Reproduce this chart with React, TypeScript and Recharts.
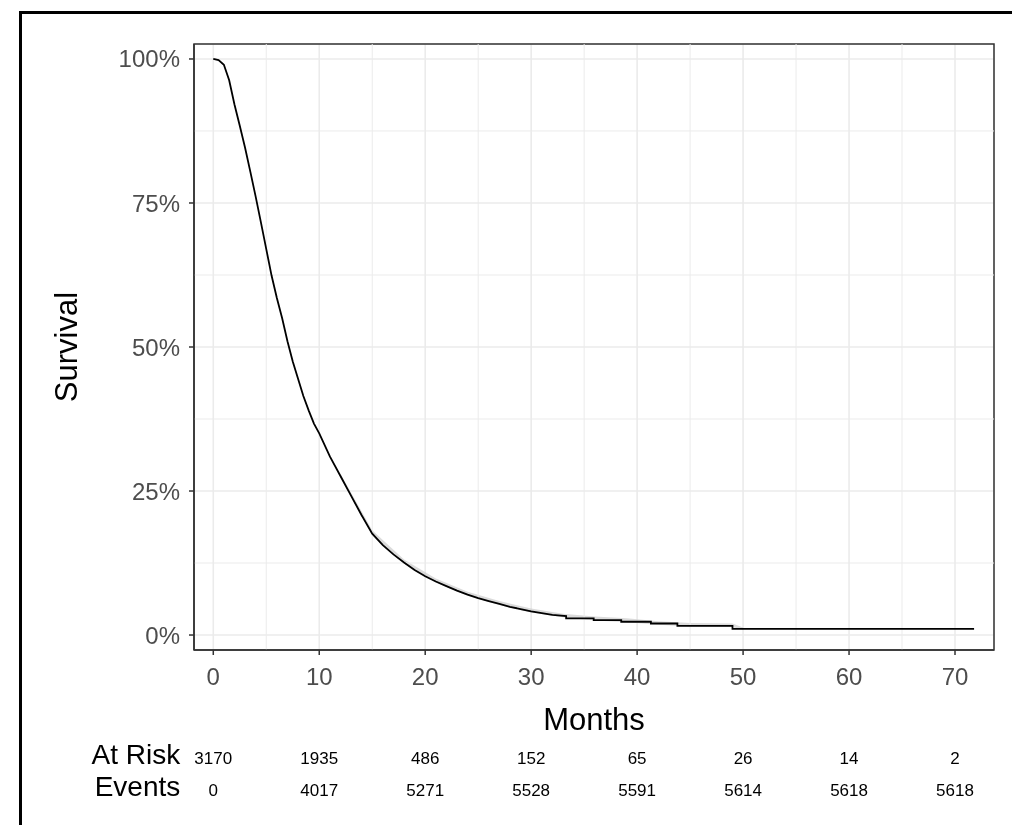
import React from 'react';
import {
  ComposedChart, Line, Area, XAxis, YAxis, CartesianGrid, ReferenceLine, ReferenceArea,
} from 'recharts';

// Kaplan-Meier curve (months, survival %)
const months = [0, 0.5, 1, 1.5, 2, 2.5, 3, 3.5, 4, 4.5, 5, 5.5, 6, 6.5, 7, 7.5, 8, 8.5, 9, 9.5, 10,
  11, 12, 13, 14, 15, 16, 17, 18, 19, 20, 21, 22, 23, 24, 25, 26, 27, 28, 29, 30, 31, 32,
  33.3, 33.3, 35.9, 35.9, 38.5, 38.5, 41.3, 41.3, 43.8, 43.8, 49, 49, 71.8];
const survival = [100, 99.8, 99, 96.3, 92.1, 88.4, 84.6, 80.4, 76.1, 71.6, 67.0, 62.4, 58.5, 55.0, 51.0, 47.5, 44.5, 41.5, 39.0, 36.7, 35.0,
  31.0, 27.6, 24.2, 20.8, 17.6, 15.6, 14.0, 12.6, 11.3, 10.2, 9.3, 8.5, 7.7, 7.0, 6.4, 5.9, 5.4, 4.9, 4.5, 4.1, 3.8, 3.5,
  3.3, 2.9, 2.9, 2.6, 2.6, 2.3, 2.3, 2.0, 2.0, 1.6, 1.6, 1.05, 1.05];

// faint confidence band
const bandMonths = [12, 15, 18, 21, 24, 27, 30, 33, 36, 39, 42, 45, 49, 50];
const bandLow = [27.3, 17.3, 12.4, 9.1, 6.8, 5.2, 3.9, 3.1, 2.5, 2.2, 1.8, 1.5, 1.4, 0.9];
const bandHigh = [28.0, 18.2, 13.1, 9.8, 7.5, 5.9, 4.6, 3.7, 3.2, 2.9, 2.4, 2.1, 2.0, 1.3];

const xTicks = [0, 10, 20, 30, 40, 50, 60, 70];
const xMinor = [5, 15, 25, 35, 45, 55, 65];
const yTicks = [0, 25, 50, 75, 100];
const yMinor = [12.5, 37.5, 62.5, 87.5];
const xDomain = [-1.82, 73.68];
const yDomain = [-2.6, 102.6];

const riskMonths = [0, 10, 20, 30, 40, 50, 60, 70];
const atRisk = [3170, 1935, 486, 152, 65, 26, 14, 2];
const events = [0, 4017, 5271, 5528, 5591, 5614, 5618, 5618];

const curveData = months.map((m, i) => ({ m, s: survival[i] }));
const bandData = bandMonths.map((m, i) => ({ m, band: [bandLow[i], bandHigh[i]] }));

const FONT = '"Liberation Sans", Arial, sans-serif';

const RiskTick = (props: any) => {
  const { x, y, payload } = props;
  const i = riskMonths.indexOf(payload.value);
  return (
    <g>
      {i === 0 && (
        <>
          <text x={x - 33} y={y + 29} textAnchor="end" fontSize={28} fill="#000" fontFamily={FONT}>At Risk</text>
          <text x={x - 33} y={y + 61} textAnchor="end" fontSize={28} fill="#000" fontFamily={FONT}>Events</text>
        </>
      )}
      <text x={x} y={y + 29} textAnchor="middle" fontSize={17} fill="#000" fontFamily={FONT}>{atRisk[i]}</text>
      <text x={x} y={y + 61} textAnchor="middle" fontSize={17} fill="#000" fontFamily={FONT}>{events[i]}</text>
    </g>
  );
};

const SurvLabel = (props: any) => {
  const { viewBox } = props;
  const cx = viewBox.x + 58.7;
  const cy = viewBox.y + viewBox.height / 2;
  return (
    <text x={cx} y={cy} transform={`rotate(-90, ${cx}, ${cy})`} textAnchor="middle"
      dominantBaseline="central" fontSize={31} fill="#000" fontFamily={FONT}>Survival</text>
  );
};

export default function App() {
  return (
    <div style={{ position: 'relative', width: 996, height: 809, background: '#fff' }}>
      <div style={{ position: 'fixed', left: 19, top: 11, right: 0, bottom: 0, borderLeft: '3px solid #000', borderTop: '3px solid #000' }} />
      <div style={{ position: 'absolute', left: 0, top: 0 }}>
        <ComposedChart width={1004} height={809} margin={{ top: 36, right: 18, bottom: 0, left: 0 }}>
          <CartesianGrid stroke="#ebebeb" strokeWidth={1.6} />
          {xMinor.map((v) => (
            <ReferenceLine key={'vx' + v} x={v} stroke="#ebebeb" strokeWidth={1} ifOverflow="hidden" />
          ))}
          {yMinor.map((v) => (
            <ReferenceLine key={'hy' + v} y={v} stroke="#ebebeb" strokeWidth={1} ifOverflow="hidden" />
          ))}
          <XAxis
            dataKey="m" type="number" domain={xDomain} allowDataOverflow ticks={xTicks}
            height={85} tickSize={5} tickMargin={13} interval={0}
            axisLine={{ stroke: '#333', strokeWidth: 1.5 }} tickLine={{ stroke: '#333', strokeWidth: 1.5 }}
            tick={{ fontSize: 24, fill: '#4d4d4d', fontFamily: FONT }}
            label={{ value: 'Months', position: 'insideBottom', offset: 5, fontSize: 31, fill: '#000', fontFamily: FONT }}
          />
          <XAxis
            xAxisId="risk" dataKey="m" type="number" domain={xDomain} allowDataOverflow ticks={riskMonths}
            height={82} tickSize={0} tickMargin={0} axisLine={false} tickLine={false} interval={0}
            tick={<RiskTick />}
          />
          <YAxis
            type="number" domain={yDomain} allowDataOverflow ticks={yTicks} width={186}
            tickSize={5} tickMargin={9} interval={0}
            tickFormatter={(v: number) => `${v}%`}
            axisLine={{ stroke: '#333', strokeWidth: 1.5 }} tickLine={{ stroke: '#333', strokeWidth: 1.5 }}
            tick={{ fontSize: 24, fill: '#4d4d4d', fontFamily: FONT }}
            label={<SurvLabel />}
          />
          <Area data={bandData} dataKey="band" type="linear" stroke="none" fill="#cccccc" fillOpacity={0.7}
            isAnimationActive={false} />
          <Line data={curveData} dataKey="s" type="linear" stroke="#000" strokeWidth={1.8} dot={false}
            isAnimationActive={false} />
          <ReferenceArea x1={xDomain[0]} x2={xDomain[1]} y1={yDomain[0]} y2={yDomain[1]}
            fill="none" fillOpacity={0} stroke="#333" strokeWidth={1.5} ifOverflow="extendDomain" />
        </ComposedChart>
      </div>
    </div>
  );
}
